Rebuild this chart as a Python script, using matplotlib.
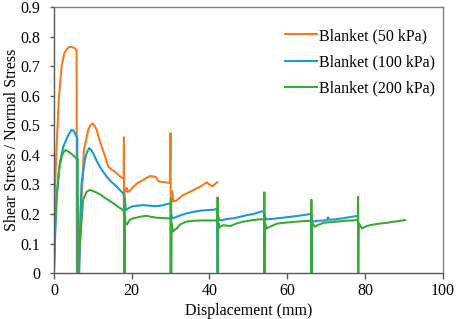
import matplotlib
matplotlib.use("Agg")
import matplotlib.pyplot as plt

# ---- data ----
labels = ["Blanket (50 kPa)", "Blanket (100 kPa)", "Blanket (200 kPa)"]

disp_50 = [0, 0.3, 0.77, 1.29, 1.97, 2.66, 3.2, 3.69, 4.3, 4.97, 5.4, 5.83, 5.9,
           6.4, 6.9, 7.1, 7.7, 8.8, 9.4, 9.96, 10.5, 11, 11.6, 12.3, 13, 13.5, 14,
           14.8, 15.7, 16.5, 17.2, 17.8, 17.95, 18.0, 18.05, 18.15, 18.4, 18.7, 19.0,
           19.5, 20.3, 21.3, 22.3, 23.5, 24.7, 25.5, 26.2, 26.8, 27.3, 28.5, 29.8,
           30.0, 30.05, 30.15, 30.4, 30.7, 31.5, 33, 35, 36.5, 37.6, 38.5, 39.3, 40.1,
           40.8, 41.5, 42.0]
ratio_50 = [0.2, 0.3, 0.45, 0.596, 0.698, 0.743, 0.755, 0.763, 0.765, 0.763, 0.76, 0.754, 0.0,
            0.0, 0.15, 0.247, 0.416, 0.484, 0.5, 0.506, 0.497, 0.484, 0.455, 0.427, 0.40, 0.38, 0.36,
            0.35, 0.343, 0.333, 0.325, 0.320, 0.318, 0.461, 0.0, 0.28, 0.275, 0.29, 0.275,
            0.278, 0.29, 0.303, 0.31, 0.32, 0.328, 0.327, 0.325, 0.312, 0.309, 0.307, 0.305,
            0.475, 0.0, 0.27, 0.28, 0.243, 0.245, 0.262, 0.275, 0.285, 0.292, 0.30, 0.307, 0.298,
            0.294, 0.302, 0.307]

disp_100 = [0, 0.3, 0.7, 1.5, 2.4, 3.7, 4.5, 5.0, 5.5, 6.0, 6.05, 6.5, 6.8, 7.1, 8, 8.6,
            9.1, 9.6, 10.1, 11, 11.8, 12.7, 13.6, 14.6, 15.7, 16.8, 17.8, 18.0, 18.05, 18.1,
            18.3, 18.5, 19, 20, 21.5, 23, 24.5, 26, 27.5, 29, 30.0, 30.05, 30.1, 30.5, 31.5,
            32.5, 34.1, 35.5, 37.6, 39.5, 41.0, 42.0, 42.1, 42.15, 42.5, 43.1, 44.5, 46.1,
            47.8, 49.6, 51.3, 53, 54.0, 54.1, 54.15, 54.5, 56, 58, 60.7, 62.5, 64.1, 65.5,
            66.15, 66.2, 66.25, 66.5, 68, 69.5, 70.2, 70.5, 70.8, 72.5, 74.5, 76.5, 77.9]
ratio_100 = [0, 0.12, 0.258, 0.371, 0.427, 0.467, 0.484, 0.482, 0.47, 0.458, 0.0, 0.0, 0.2, 0.303,
             0.388, 0.412, 0.422, 0.416, 0.405, 0.38, 0.36, 0.342, 0.326, 0.31, 0.298, 0.283,
             0.27, 0.262, 0.0, 0.25, 0.24, 0.213, 0.218, 0.225, 0.228, 0.23, 0.228, 0.226,
             0.228, 0.233, 0.236, 0.0, 0.2, 0.185, 0.19, 0.195, 0.202, 0.206, 0.211, 0.213,
             0.214, 0.218, 0.0, 0.2, 0.179, 0.179, 0.183, 0.185, 0.19, 0.196, 0.2, 0.207, 0.21,
             0.0, 0.2, 0.182, 0.183, 0.186, 0.19, 0.193, 0.196, 0.199, 0.202, 0.0, 0.195, 0.174,
             0.177, 0.178, 0.179, 0.19, 0.18, 0.182, 0.186, 0.19, 0.193]

disp_200 = [0, 0.26, 0.69, 1.29, 1.97, 2.5, 3.0, 3.5, 4.1, 4.8, 5.4, 6.0, 6.1, 6.25, 6.5,
            6.86, 7.5, 8.4, 9.26, 10, 11, 12, 12.7, 14, 15.3, 16.5, 17.8, 18.05, 18.1, 18.15,
            18.25, 18.4, 18.8, 19.5, 20.4, 22, 23.8, 25, 26.5, 28, 29.8, 30.05, 30.1, 30.15,
            30.25, 30.6, 31, 31.6, 32.5, 34.1, 36, 38, 40, 42.05, 42.1, 42.15, 42.25, 42.6,
            43.5, 45.3, 47, 48.7, 50.5, 53, 54.05, 54.1, 54.15, 54.25, 54.7, 55.6, 57.3, 59,
            62.4, 64.5, 66.15, 66.2, 66.25, 66.35, 67.1, 68, 69.3, 72.7, 75, 78.15, 78.2,
            78.25, 78.35, 79.2, 80, 81.3, 83.5, 85.6, 88, 90.3]
ratio_200 = [0, 0.145, 0.258, 0.348, 0.393, 0.41, 0.416, 0.413, 0.407, 0.4, 0.393, 0.385, 0.385,
             0.0, 0.07, 0.134, 0.247, 0.275, 0.281, 0.278, 0.272, 0.265, 0.258, 0.247, 0.236,
             0.224, 0.213, 0.207, 0.26, 0.0, 0.2, 0.17, 0.165, 0.18, 0.185, 0.19, 0.194, 0.19,
             0.187, 0.186, 0.185, 0.183, 0.253, 0.0, 0.17, 0.14, 0.145, 0.151, 0.165, 0.174,
             0.177, 0.178, 0.178, 0.178, 0.258, 0.0, 0.17, 0.155, 0.162, 0.159, 0.168, 0.174,
             0.178, 0.182, 0.182, 0.275, 0.0, 0.17, 0.151, 0.157, 0.167, 0.17, 0.174, 0.176,
             0.177, 0.249, 0.0, 0.17, 0.157, 0.163, 0.17, 0.174, 0.177, 0.179, 0.26, 0.0, 0.17,
             0.151, 0.157, 0.162, 0.167, 0.17, 0.175, 0.179]

x_ticks = [0, 20, 40, 60, 80, 100]
y_ticks = [0, 0.1, 0.2, 0.3, 0.4, 0.5, 0.6, 0.7, 0.8, 0.9]
y_tick_labels = ["0", "0.1", "0.2", "0.3", "0.4", "0.5", "0.6", "0.7", "0.8", "0.9"]

colors = ["#F47B20", "#1A9AD9", "#3BAA35"]

plt.rcParams['font.family'] = ['Liberation Serif', 'DejaVu Serif']

fig = plt.figure(figsize=(4.57, 3.19), dpi=100)
ax = fig.add_axes([0.118, 0.144, 0.851, 0.834])

series = [(disp_50, ratio_50), (disp_100, ratio_100), (disp_200, ratio_200)]
for (xs, ys), c, lab in zip(series, colors, labels):
    ax.plot(xs, ys, color=c, lw=1.5, label=lab, solid_joinstyle='miter')

ax.set_xlim(0, 100)
ax.set_ylim(0, 0.9)
ax.set_xticks(x_ticks)
ax.set_yticks(y_ticks)
ax.set_yticklabels(y_tick_labels)
ax.tick_params(axis='both', labelsize=11.5, colors='#595959', labelcolor='black')
ax.tick_params(axis='x', length=4, width=1, pad=3)
ax.tick_params(axis='y', length=3, width=1, pad=7)
for s in ['left', 'bottom']:
    ax.spines[s].set_color('#595959')
    ax.spines[s].set_linewidth(1.0)
for s in ['top', 'right']:
    ax.spines[s].set_color('#808080')
    ax.spines[s].set_linewidth(1.0)

ax.set_xlabel("Displacement (mm)", fontsize=11.5, labelpad=3)
ax.set_ylabel("Shear Stress / Normal Stress", fontsize=11.5, labelpad=0)

ax.legend(loc='upper right', bbox_to_anchor=(0.997, 0.945), frameon=False, fontsize=11.5,
          handlelength=2.0, handletextpad=0.15, labelspacing=0.65, borderaxespad=0)

fig.savefig("out.png", dpi=100)
